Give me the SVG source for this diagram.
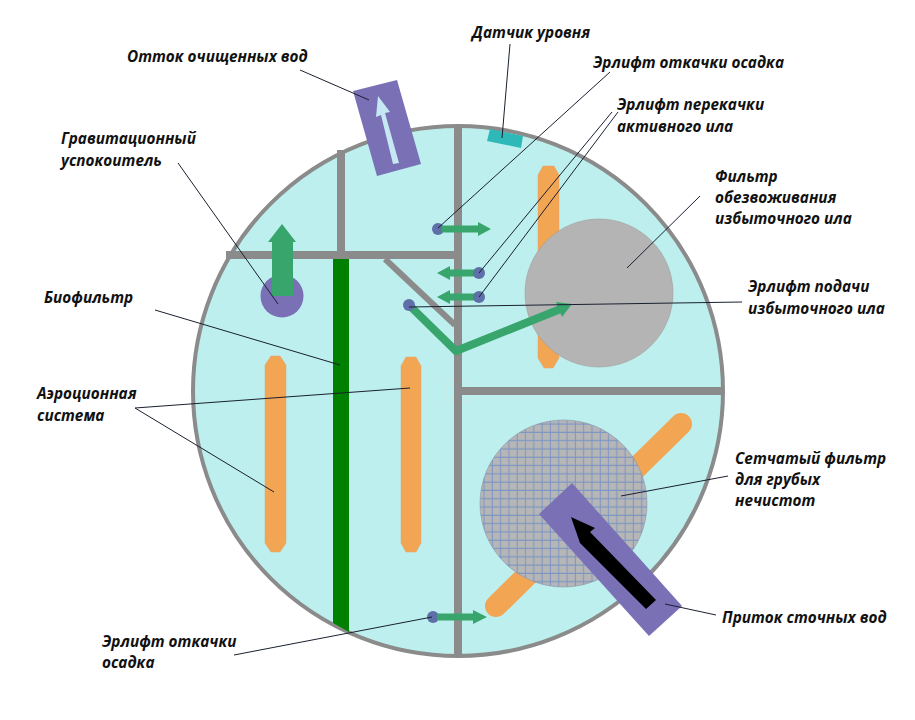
<svg xmlns="http://www.w3.org/2000/svg" width="915" height="720" viewBox="0 0 915 720">
<style>
.wall{stroke:#8b8b8b;stroke-width:8;fill:none}
.bar{fill:#f2a553;stroke:#e0a070;stroke-width:.5}
.grn{fill:#38a56d}
.dot{fill:#5f6fa8}
.pur{fill:#7a70b6}
.ld{stroke:#1a2030;stroke-width:1;fill:none}
text{font-family:"Open Sans","Liberation Sans",sans-serif;font-weight:700;font-style:italic;font-size:15.3px;fill:#111}
</style>
<defs>
<pattern id="mesh" width="8.3" height="8.3" patternUnits="userSpaceOnUse" x="480" y="420">
<rect width="8.3" height="8.3" fill="#b6b6b6"/>
<path d="M4 0V8.3M0 4H8.3" stroke="#7b95c4" stroke-width="1" fill="none"/>
</pattern>
</defs>
<rect width="915" height="720" fill="#fff"/>
<g id="tank"><circle cx="458" cy="391" r="265" fill="#bcefed" stroke="#8b8b8b" stroke-width="4"/></g>
<g id="walls">
<rect x="447" y="381" width="21" height="21" fill="none" stroke="#cdeae6" stroke-width="1"/>
<path class="wall" d="M458 126V656M341 150V255M226 255H458M462 391H723"/>
<path d="M385 259L455 325" stroke="#8b8b8b" stroke-width="6" fill="none"/>
</g>
<g id="biofilter"><path d="M333 259H349V632L333 623Z" fill="#008000"/></g>
<g id="aeration">
<path class="bar" d="M265 365L271 356H280L286 365V543L280 552H271L265 543Z"/>
<path class="bar" d="M401 366L406 357H416L421 366V543L416 552H406L401 543Z"/>
</g>
<g id="dewatering-filter">
<path class="bar" d="M538 175L543 166H554L559 175V358L553 368H544L538 358Z"/>
<circle cx="599" cy="293" r="74" fill="#b4b4b4" stroke="#a09c98" stroke-width=".6"/>
</g>
<g id="mesh-filter">
<path d="M496 606L681 424" stroke="#f2a553" stroke-width="22" stroke-linecap="round" fill="none"/>
<circle cx="563.5" cy="503.5" r="83.5" fill="url(#mesh)" stroke="#8a93a8" stroke-width=".6"/>
</g>
<g id="inflow">
<path class="pur" d="M572 483L539 514L649 636L682 606Z"/>
<path d="M571 517L595 528L590 532L656 600L646 609L580 543Z" fill="#000"/>
</g>
<g id="outflow">
<path class="pur" d="M353 91L397 80L421 164L377 176Z"/>
<path d="M378 96L390 112L385 113L399 163L393 164L381 115L376 117Z" fill="#c5e8f2"/>
</g>
<g id="level-sensor"><path d="M490 129L523 136L521 148L487 141Z" fill="#2fb8b8"/></g>
<g id="settler">
<circle cx="282" cy="296" r="21.5" fill="#7a70b6"/>
<path class="grn" d="M272 296V242H268L282 224L296 242H293V296Z"/>
</g>
<g id="airlift-1"><circle class="dot" cx="438" cy="229" r="6"/><path class="grn" d="M442 225.500H478V222L491 229L478 236V232.500H442Z"/></g>
<g id="airlift-2"><path class="grn" d="M475 269.500H450V266L437 273L450 280V276.500H475Z"/><circle class="dot" cx="479" cy="273" r="6"/></g>
<g id="airlift-3"><path class="grn" d="M475 293.500H450V290L437 297L450 304V300.500H475Z"/><circle class="dot" cx="479" cy="297" r="6"/></g>
<g id="airlift-4">
<path d="M409 305L456 351L563 308" fill="none" stroke="#38a56d" stroke-width="8"/>
<path class="grn" d="M572 304L556 302L562 317Z"/>
<circle class="dot" cx="409" cy="305" r="6"/>
</g>
<g id="airlift-5"><circle class="dot" cx="433" cy="617" r="6"/><path class="grn" d="M437 613.500H473V610L487 617L473 624V620.500H437Z"/></g>
<g id="connectors">
<path class="ld" d="M300 70L369 100"/>
<path class="ld" d="M510 44L502 138"/>
<path class="ld" d="M610 72L438 228"/>
<path class="ld" d="M612 112L479 273"/>
<path class="ld" d="M618 112L479 297"/>
<path class="ld" d="M700 196L627 268"/>
<path class="ld" d="M742 302L409 307"/>
<path class="ld" d="M178 163L278 304"/>
<path class="ld" d="M155 310L340 365"/>
<path class="ld" d="M135 408L410 388"/>
<path class="ld" d="M135 408L274 492"/>
<path class="ld" d="M728 476L621 496"/>
<path class="ld" d="M716 615L665 604"/>
<path class="ld" d="M234 655L432 617"/>
</g>
<g id="labels">
<text x="127" y="62">Отток очищенных вод</text>
<text x="472" y="38">Датчик уровня</text>
<text x="593" y="68">Эрлифт откачки осадка</text>
<text x="617" y="110">Эрлифт перекачки</text>
<text x="617" y="132">активного ила</text>
<text x="61" y="144">Гравитационный</text>
<text x="61" y="166">успокоитель</text>
<text x="715" y="182">Фильтр</text>
<text x="715" y="203">обезвоживания</text>
<text x="715" y="224">избыточного ила</text>
<text x="44" y="303">Биофильтр</text>
<text x="748" y="292">Эрлифт подачи</text>
<text x="748" y="314">избыточного ила</text>
<text x="37" y="399">Аэроционная</text>
<text x="37" y="421">система</text>
<text x="735" y="464">Сетчатый фильтр</text>
<text x="735" y="485">для грубых</text>
<text x="735" y="506">нечистот</text>
<text x="722" y="623">Приток сточных вод</text>
<text x="102" y="647">Эрлифт откачки</text>
<text x="102" y="668">осадка</text>
</g>
</svg>
